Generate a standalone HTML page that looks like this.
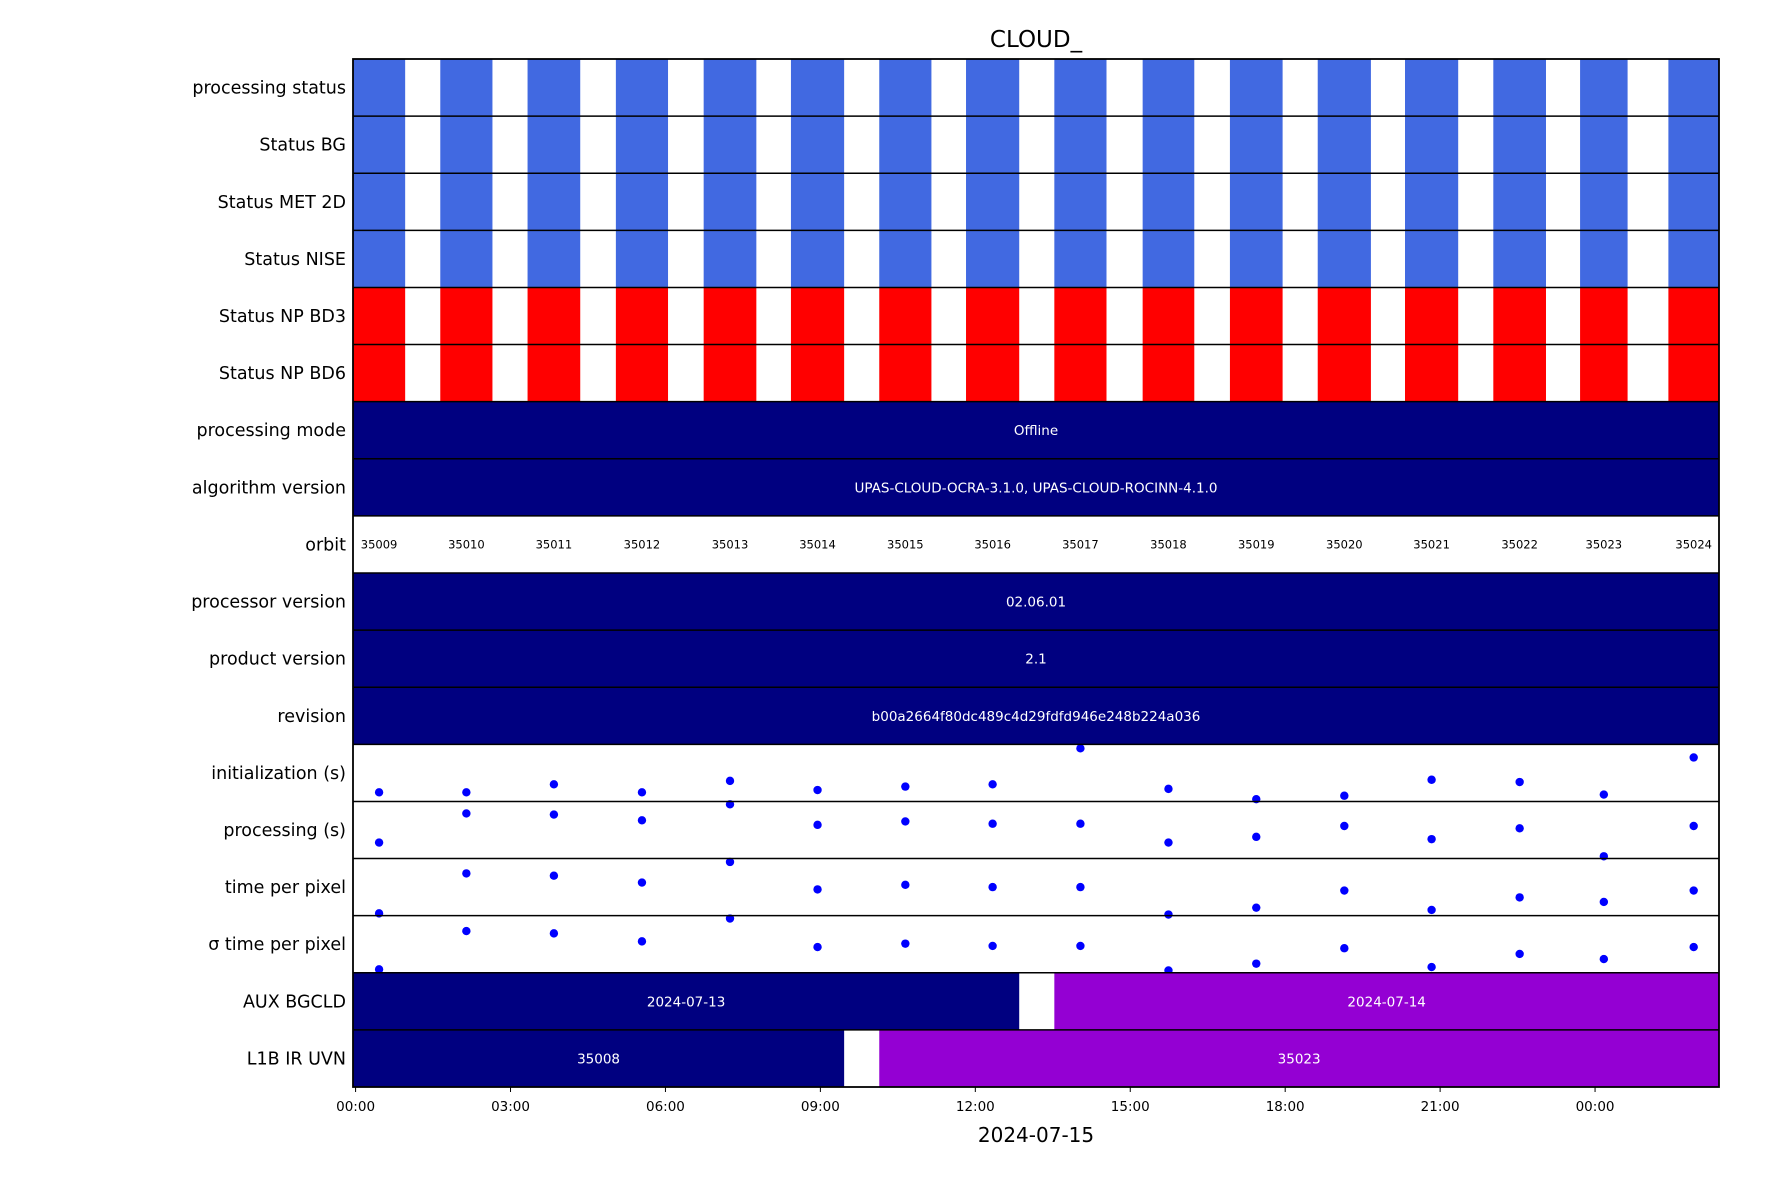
<!DOCTYPE html>
<html><head><meta charset="utf-8"><style>html,body{margin:0;padding:0;background:#fff}svg{display:block;font-family:"DejaVu Sans","Liberation Sans",sans-serif}</style></head>
<body>
<svg id="chart" width="1771" height="1181" viewBox="0 0 1771 1181" xmlns="http://www.w3.org/2000/svg">
<text x="1036" y="47" font-size="23" text-anchor="middle">CLOUD_</text>
<g id="rows"></g>
<g id="axis"></g>
<text x="1036" y="1142" font-size="20" text-anchor="middle">2024-07-15</text>
</svg>
<script>
const rowLabels = ["processing status","Status BG","Status MET 2D","Status NISE","Status NP BD3","Status NP BD6","processing mode","algorithm version","orbit","processor version","product version","revision","initialization (s)","processing (s)","time per pixel","\u03c3 time per pixel","AUX BGCLD","L1B IR UVN"];
const orbits = [35009,35010,35011,35012,35013,35014,35015,35016,35017,35018,35019,35020,35021,35022,35023,35024];
const orbitStart = [-0.05,1.64,3.33,5.04,6.74,8.43,10.14,11.82,13.53,15.24,16.93,18.63,20.32,22.03,23.71,25.42];
const orbitEnd = [0.96,2.65,4.35,6.05,7.76,9.46,11.15,12.85,14.54,16.24,17.95,19.66,21.35,23.05,24.63,26.4];
const initVals = [0.16,0.16,0.30,0.16,0.36,0.20,0.26,0.30,0.93,0.22,0.04,0.10,0.38,0.34,0.12,0.77];
const procVals = [0.28,0.79,0.77,0.67,0.95,0.59,0.65,0.61,0.61,0.28,0.38,0.57,0.34,0.53,0.04,0.57];
const tppVals = [0.04,0.74,0.70,0.58,0.94,0.46,0.54,0.50,0.50,0.02,0.14,0.44,0.10,0.32,0.24,0.44];
const sigmaVals = [0.06,0.73,0.69,0.55,0.95,0.45,0.51,0.47,0.47,0.04,0.16,0.43,0.10,0.33,0.24,0.45];
const auxSegStart = [-0.05,13.53];
const auxSegEnd = [12.85,26.4];
const auxSegLabel = ["2024-07-13","2024-07-14"];
const l1bSegStart = [-0.05,10.14];
const l1bSegEnd = [9.46,26.4];
const l1bSegLabel = ["35008","35023"];
const tickHours = [0,3,6,9,12,15,18,21,24];
const tickLabels = ["00:00","03:00","06:00","09:00","12:00","15:00","18:00","21:00","00:00"];

const NS="http://www.w3.org/2000/svg";
const L=353,R=1719,T=59,B=1087,H0=-0.05,H1=26.4;
const rowH=(B-T)/rowLabels.length;
const xs=h=>L+(h-H0)/(H1-H0)*(R-L);
const rowY=i=>T+i*rowH;
const g=document.getElementById('rows'), ax=document.getElementById('axis');
function mk(tag,attrs,parent,txt){const e=document.createElementNS(NS,tag);for(const k in attrs)e.setAttribute(k,attrs[k]);if(txt!==undefined)e.textContent=txt;parent.appendChild(e);return e;}
function cx(i){return (xs(orbitStart[i])+Math.min(xs(orbitEnd[i]),R))/2;}

rowLabels.forEach((lab,i)=>{
  const y=rowY(i);
  const t=mk('text',{x:L-7,y:y+rowH/2+6,'font-size':17.5,'text-anchor':'end'},g,lab);
  
  
  if(i<6){
    const col=i<4?'#4169e1':'#ff0000';
    orbits.forEach((o,j)=>{
      const r=mk('rect',{x:xs(orbitStart[j]),y:y,width:Math.min(xs(orbitEnd[j]),R)-xs(orbitStart[j]),height:rowH,fill:col},g);
      
      
    });
  } else if([6,7,9,10,11].includes(i)){
    const txt={6:'Offline',7:'UPAS-CLOUD-OCRA-3.1.0, UPAS-CLOUD-ROCINN-4.1.0',9:'02.06.01',10:'2.1',11:'b00a2664f80dc489c4d29fdfd946e248b224a036'}[i];
    const r=mk('rect',{x:L,y:y,width:R-L,height:rowH,fill:'#000080'},g);
    
    
    const tt=mk('text',{x:(L+R)/2,y:y+rowH/2+5,'font-size':13.5,fill:'#fff','text-anchor':'middle'},g,txt);
    
    
  } else if(i===8){
    orbits.forEach((o,j)=>{
      const tt=mk('text',{x:cx(j),y:y+rowH/2+4,'font-size':11.5,'text-anchor':'middle'},g,o);
      
      
    });
  } else if(i>=12&&i<=15){
    const vals=[initVals,procVals,tppVals,sigmaVals][i-12];
    vals.forEach((v,j)=>{
      const c=mk('circle',{cx:cx(j),cy:y+rowH-v*rowH,r:4.2,fill:'#0000ff'},g);
      
      
    });
  } else {
    const s=i===16?auxSegStart:l1bSegStart,e=i===16?auxSegEnd:l1bSegEnd,lb=i===16?auxSegLabel:l1bSegLabel;
    s.forEach((h,j)=>{
      const x0=xs(h),x1=Math.min(xs(e[j]),R);
      const r=mk('rect',{x:x0,y:y,width:x1-x0,height:rowH,fill:j===0?'#000080':'#9400d3'},g);
      
      
      const tt=mk('text',{x:(x0+x1)/2,y:y+rowH/2+5,'font-size':13.5,fill:'#fff','text-anchor':'middle'},g,lb[j]);
      
      
    });
  }
  if(i>0){const ln=mk('line',{x1:L,x2:R,y1:y,y2:y,stroke:'#000','stroke-width':1.5},g);
    
    }
});
const fr=mk('rect',{x:L,y:T,width:R-L,height:B-T,fill:'none',stroke:'#000','stroke-width':1.8},g);


tickHours.forEach((h,k)=>{
  const x=xs(h);
  const tk=mk('line',{x1:x,x2:x,y1:B,y2:B+5,stroke:'#000','stroke-width':1},ax);
  
  
  const tl=mk('text',{x:x,y:B+24,'font-size':13.5,'text-anchor':'middle'},ax,tickLabels[k]);
  
  
});
</script>
</body></html>
